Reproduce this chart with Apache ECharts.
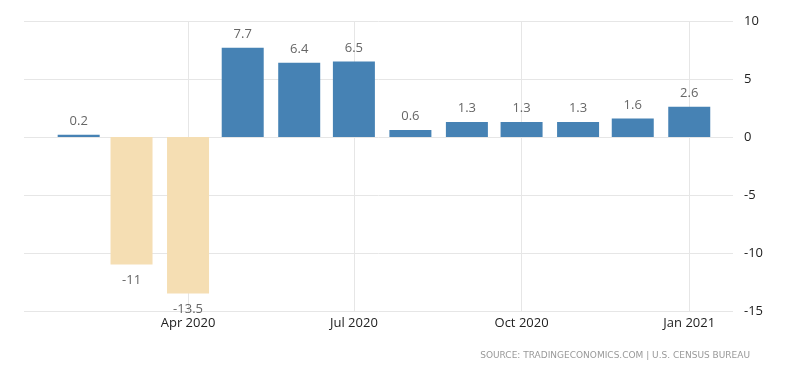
<!DOCTYPE html>
<html>
<head>
<meta charset="utf-8">
<script src="https://cdn.jsdelivr.net/npm/echarts@6/dist/echarts.min.js"></script>
<style>
html,body{margin:0;padding:0;background:#fff;}
#chart{width:800px;height:373px;}
</style>
</head>
<body>
<div id="chart"></div>
<script>
const months = ['2020-02-01','2020-03-01','2020-04-01','2020-05-01','2020-06-01','2020-07-01','2020-08-01','2020-09-01','2020-10-01','2020-11-01','2020-12-01','2021-01-01'];
const values = [0.2, -11, -13.5, 7.7, 6.4, 6.5, 0.6, 1.3, 1.3, 1.3, 1.6, 2.6];
const tickDates = ['2020-04-01','2020-07-01','2020-10-01','2021-01-01'];
const yTicks = [-15, -10, -5, 0, 5, 10];
const sourceText = 'SOURCE: TRADINGECONOMICS.COM | U.S. CENSUS BUREAU';

const MONTHS = ['Jan','Feb','Mar','Apr','May','Jun','Jul','Aug','Sep','Oct','Nov','Dec'];
const toTime = d => new Date(d + 'T00:00:00Z').getTime();
const tickTimes = tickDates.map(toTime);

const data = months.map((m, i) => {
  const v = values[i];
  return {
    value: [toTime(m), v],
    itemStyle: { color: v < 0 ? '#F5DEB3' : '#4682B4' },
    label: { position: v < 0 ? 'bottom' : 'top', distance: v < 0 ? 9 : 7 }
  };
});

const chart = echarts.init(document.getElementById('chart'), null, { renderer: 'canvas' });
chart.setOption({
  animation: false,
  backgroundColor: '#fff',
  textStyle: { fontFamily: 'Open Sans' },
  grid: { left: 24, right: 67, top: 21, bottom: 62, containLabel: false },
  xAxis: {
    type: 'value',
    min: toTime('2020-01-02'),
    max: toTime('2021-01-25'),
    axisLine: { show: false },
    axisTick: { show: false, customValues: tickTimes },
    axisLabel: {
      customValues: tickTimes,
      color: '#222',
      fontSize: 13,
      margin: 6,
      formatter: function (val) {
        const d = new Date(val);
        return MONTHS[d.getUTCMonth()] + ' ' + d.getUTCFullYear();
      }
    },
    splitLine: { show: true, lineStyle: { color: '#e6e6e6', width: 1 } }
  },
  yAxis: {
    type: 'value',
    position: 'right',
    min: yTicks[0],
    max: yTicks[yTicks.length - 1],
    interval: 5,
    axisLine: { show: false },
    axisTick: { show: false },
    axisLabel: { color: '#222', fontSize: 13, margin: 11 },
    splitLine: { show: true, lineStyle: { color: '#e6e6e6', width: 1 } }
  },
  series: [{
    type: 'bar',
    barWidth: 42,
    data: data,
    label: {
      show: true,
      color: '#666',
      fontSize: 13,
      formatter: p => String(p.value[1])
    }
  }],
  graphic: [{
    type: 'text',
    right: 50,
    top: 351,
    style: {
      text: sourceText,
      fill: '#999',
      fontSize: 9,
      fontFamily: 'DejaVu Sans',
      letterSpacing: 0.6
    }
  }]
});
</script>
</body>
</html>
